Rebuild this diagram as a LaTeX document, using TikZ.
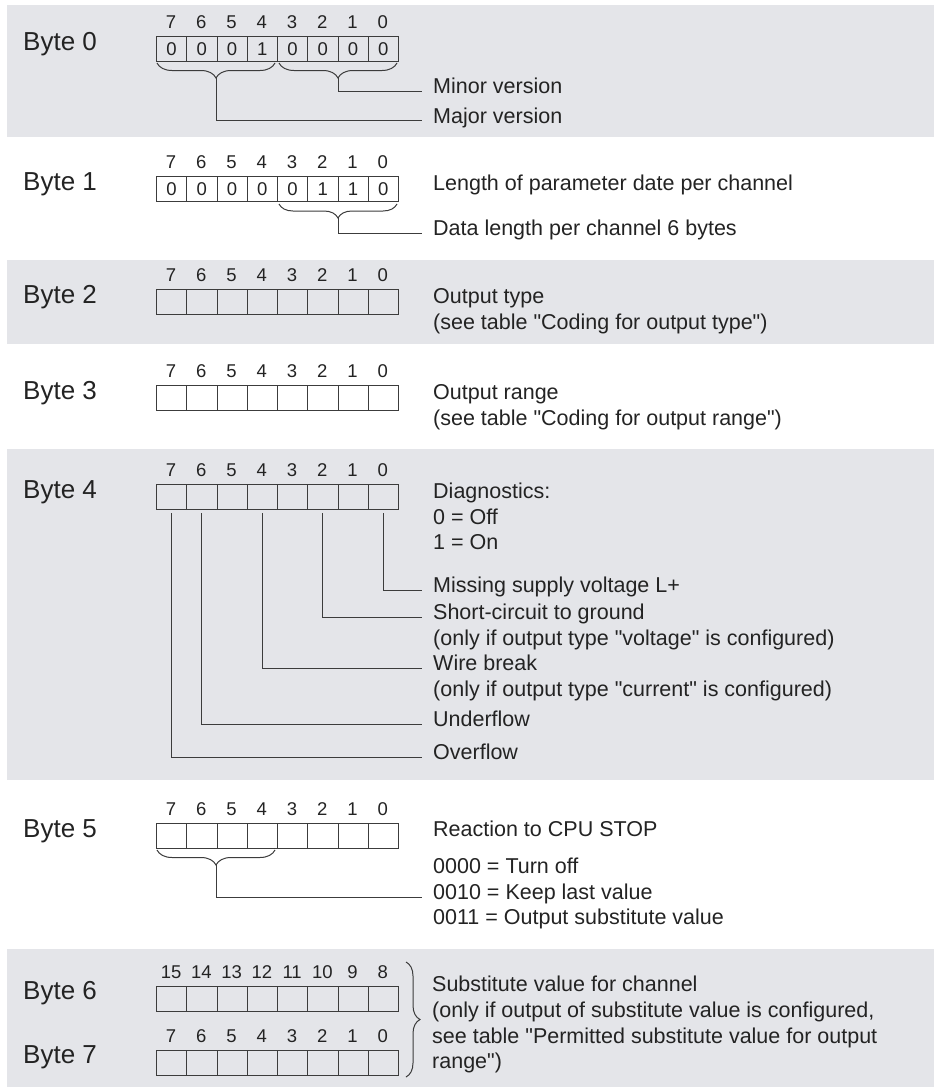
\documentclass[tikz,border=0pt]{standalone}
\usepackage{fontspec}
\setmainfont{Liberation Sans}[Ligatures=TeXOff]
\usetikzlibrary{decorations.pathreplacing}
\definecolor{bandgray}{RGB}{228,229,233}
\definecolor{ink}{RGB}{35,35,35}
\definecolor{linec}{RGB}{60,60,60}
\tikzset{
  band/.style={fill=bandgray, draw=none},
  lbl/.style={anchor=mid west, inner sep=0pt, text=ink, font=\fontsize{26}{30}\selectfont},
  desc/.style={anchor=mid west, inner sep=0pt, text=ink, font=\fontsize{21.5}{25.5}\selectfont},
  cell/.style={draw=linec, line width=1pt, minimum width=30.25pt, minimum height=24.5pt, inner sep=0pt, anchor=north west, text=ink, font=\fontsize{18.5}{21}\selectfont},
  bitnum/.style={inner sep=0pt, text=ink, font=\fontsize{18.5}{21}\selectfont},
  conn/.style={draw=linec, line width=1pt, shorten >=11pt},
  brc/.style={draw=linec, line width=1pt, decorate, decoration={brace, amplitude=#1}},
  brc/.default=15pt
}
\begin{document}
\begin{tikzpicture}[x=1pt,y=-1pt]
\useasboundingbox (0,0) rectangle (934,1087);
% bands
\fill[band] (7,5) rectangle (934,137);
\fill[band] (7,260) rectangle (934,344);
\fill[band] (7,449) rectangle (934,780);
\fill[band] (7,949) rectangle (934,1087);

% ---------- Byte 0
\node[lbl] (byte0) at (23,48) {Byte 0};
\foreach \b/\v in {7/0,6/0,5/0,4/1,3/0,2/0,1/0,0/0} {
  \node[cell] (B0c\b) at ({156+(7-\b)*30.25},36) {\v};
  \node[bitnum] (B0n\b) at ({156+(7-\b)*30.25+15.125},22) {\b};
}
\draw[brc] (275,63) -- (157,63);
\draw[brc] (397,63) -- (279,63);
\coordinate (B0tipA) at (216,78);
\coordinate (B0tipB) at (338,78);
\node[desc] (minor) at (433,91) {Minor version};
\node[desc] (major) at (433,120.5) {Major version};
\draw[conn] (B0tipB) |- (minor.mid west);
\draw[conn] (B0tipA) |- (major.mid west);

% ---------- Byte 1
\node[lbl] (byte1) at (23,188) {Byte 1};
\foreach \b/\v in {7/0,6/0,5/0,4/0,3/0,2/1,1/1,0/0} {
  \node[cell] (B1c\b) at ({156+(7-\b)*30.25},176) {\v};
  \node[bitnum] (B1n\b) at ({156+(7-\b)*30.25+15.125},162) {\b};
}
\draw[brc=14pt] (397,204) -- (279,204);
\coordinate (B1tip) at (338,218);
\node[desc] (len) at (433,188) {Length of parameter date per channel};
\node[desc] (dlen) at (433,233) {Data length per channel 6 bytes};
\draw[conn] (B1tip) |- (dlen.mid west);

% ---------- Byte 2
\node[lbl] (byte2) at (23,301) {Byte 2};
\foreach \b in {7,...,0} {
  \node[cell] (B2c\b) at ({156+(7-\b)*30.25},289) {};
  \node[bitnum] (B2n\b) at ({156+(7-\b)*30.25+15.125},275) {\b};
}
\node[desc] (otype) at (433,301) {Output type};
\node[desc] (otype2) at (433,326.5) {(see table "Coding for output type")};

% ---------- Byte 3
\node[lbl] (byte3) at (23,397) {Byte 3};
\foreach \b in {7,...,0} {
  \node[cell] (B3c\b) at ({156+(7-\b)*30.25},385) {};
  \node[bitnum] (B3n\b) at ({156+(7-\b)*30.25+15.125},371) {\b};
}
\node[desc] (orange) at (433,397) {Output range};
\node[desc] (orange2) at (433,422.5) {(see table "Coding for output range")};

% ---------- Byte 4
\node[lbl] (byte4) at (23,496) {Byte 4};
\foreach \b in {7,...,0} {
  \node[cell] (B4c\b) at ({156+(7-\b)*30.25},484) {};
  \node[bitnum] (B4n\b) at ({156+(7-\b)*30.25+15.125},470) {\b};
}
\node[desc] (diag) at (433,496) {Diagnostics:};
\node[desc] (off) at (433,522) {0 = Off};
\node[desc] (on) at (433,547) {1 = On};
\node[desc] (miss) at (433,590) {Missing supply voltage L+};
\node[desc] (short) at (433,617) {Short-circuit to ground};
\node[desc] (short2) at (433,642.5) {(only if output type "voltage" is configured)};
\node[desc] (wire) at (433,668) {Wire break};
\node[desc] (wire2) at (433,693.5) {(only if output type "current" is configured)};
\node[desc] (under) at (433,724) {Underflow};
\node[desc] (over) at (433,757) {Overflow};
\draw[conn, shorten <=3.5pt] (B4c0.south) |- (miss.mid west);
\draw[conn, shorten <=3.5pt] (B4c2.south) |- (short.mid west);
\draw[conn, shorten <=3.5pt] (B4c4.south) |- (wire.mid west);
\draw[conn, shorten <=3.5pt] (B4c6.south) |- (under.mid west);
\draw[conn, shorten <=3.5pt] (B4c7.south) |- (over.mid west);

% ---------- Byte 5
\node[lbl] (byte5) at (23,835) {Byte 5};
\foreach \b in {7,...,0} {
  \node[cell] (B5c\b) at ({156+(7-\b)*30.25},823) {};
  \node[bitnum] (B5n\b) at ({156+(7-\b)*30.25+15.125},809) {\b};
}
\draw[brc] (275,850) -- (157,850);
\coordinate (B5tip) at (216,865);
\node[desc] (react) at (433,834) {Reaction to CPU STOP};
\node[desc] (r0) at (433,871) {0000 = Turn off};
\node[desc] (r2) at (433,897) {0010 = Keep last value};
\node[desc] (r3) at (433,922) {0011 = Output substitute value};
\draw[conn] (B5tip) |- (r2.mid west);

% ---------- Byte 6 / 7
\node[lbl] (byte6) at (23,997) {Byte 6};
\foreach \b [evaluate=\b as \n using int(\b+8)] in {7,...,0} {
  \node[cell] (B6c\b) at ({156+(7-\b)*30.25},986) {};
  \node[bitnum] (B6n\b) at ({156+(7-\b)*30.25+15.125},972) {\n};
}
\node[lbl] (byte7) at (23,1061) {Byte 7};
\foreach \b in {7,...,0} {
  \node[cell] (B7c\b) at ({156+(7-\b)*30.25},1050) {};
  \node[bitnum] (B7n\b) at ({156+(7-\b)*30.25+15.125},1036) {\b};
}
\draw[brc=14pt] (406,962) -- (406,1077);
\node[desc] (sub1) at (432,989) {Substitute value for channel};
\node[desc] (sub2) at (432,1015) {(only if output of substitute value is configured,};
\node[desc] (sub3) at (432,1040.5) {see table "Permitted substitute value for output};
\node[desc] (sub4) at (432,1066) {range")};
\end{tikzpicture}
\end{document}
